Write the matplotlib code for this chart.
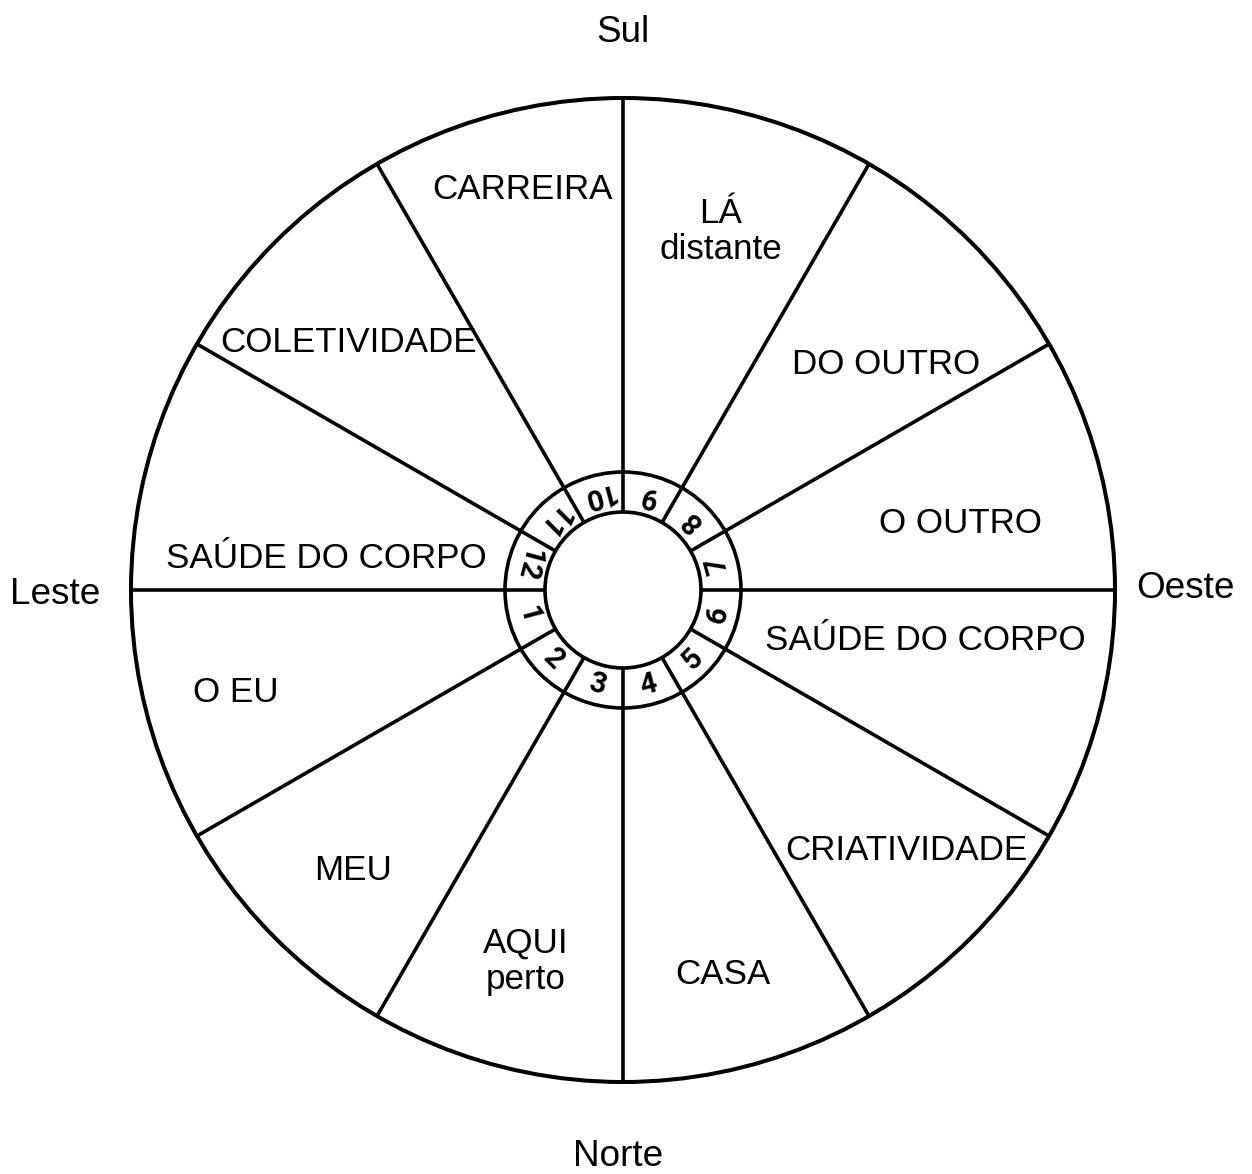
import numpy as np
import matplotlib
matplotlib.use("Agg")
import matplotlib.pyplot as plt
from matplotlib.patches import Circle

# ---- data ----
house_numbers = [1, 2, 3, 4, 5, 6, 7, 8, 9, 10, 11, 12]
house_labels = ["O EU", "MEU", "AQUI\nperto", "CASA", "CRIATIVIDADE", "SAÚDE DO CORPO",
                "O OUTRO", "DO OUTRO", "LÁ\ndistante", "CARREIRA", "COLETIVIDADE", "SAÚDE DO CORPO"]
directions = ["Sul", "Norte", "Leste", "Oeste"]

# ---- layout (pixel coordinates) ----
W, H = 1252, 1174
cx, cy = 623, 590
R_out, R_ring, R_in = 492, 118, 78
R_num = 98
# label anchor positions (x, baseline y) per house, in pixels
label_pos = [(236, 702), (353, 880), (526, 953), (723, 984), (906, 860), (925, 650),
             (960, 533), (886, 374), (721, 223), (522, 199), (349, 352), (326, 568)]
line_gap = 36
dir_pos = [(623, 42), (618, 1166), (55, 604), (1186, 598)]

fig = plt.figure(figsize=(W / 100, H / 100), dpi=100)
ax = fig.add_axes([0, 0, 1, 1])
ax.set_xlim(0, W)
ax.set_ylim(H, 0)
ax.axis("off")

lw = 2.6
ax.add_patch(Circle((cx, cy), R_out, fill=False, lw=2.9, ec="black"))
ax.add_patch(Circle((cx, cy), R_ring, fill=False, lw=lw, ec="black"))
ax.add_patch(Circle((cx, cy), R_in, fill=False, lw=lw, ec="black"))

for k in range(12):
    a = np.deg2rad(30 * k)
    ax.plot([cx + R_in * np.cos(a), cx + R_out * np.cos(a)],
            [cy - R_in * np.sin(a), cy - R_out * np.sin(a)],
            color="black", lw=lw, solid_capstyle="butt")

# house numbers in ring
for i, n in enumerate(house_numbers):
    th = 195 + 30 * i
    t = np.deg2rad(th)
    ax.text(cx + R_num * np.cos(t), cy - R_num * np.sin(t), str(n),
            rotation=th + 90, rotation_mode="anchor", ha="center", va="center",
            fontsize=21, fontweight="bold", family="Roboto")

font = "Liberation Sans"
for lab, (x, y) in zip(house_labels, label_pos):
    lines = lab.split("\n")
    for j, ln in enumerate(lines):
        ax.text(x, y + j * line_gap, ln, ha="center", va="baseline",
                fontsize=25.2, family=font)

for d, (x, y) in zip(directions, dir_pos):
    ax.text(x, y, d, ha="center", va="baseline", fontsize=26.6, family=font)

fig.savefig("out.png", dpi=100, facecolor="white")
